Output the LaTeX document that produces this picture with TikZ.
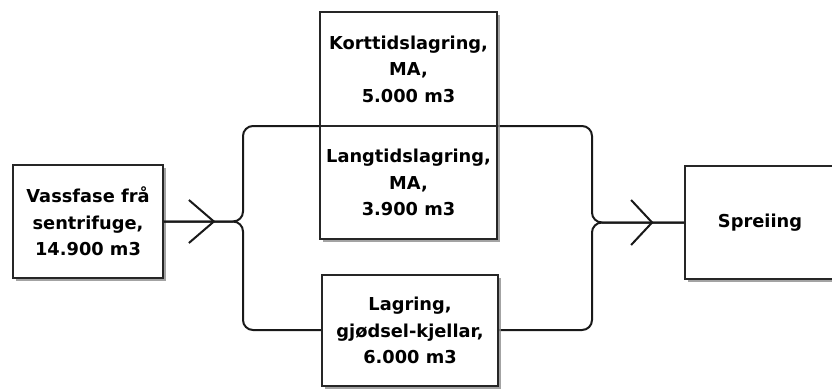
\documentclass[tikz,border=0pt]{standalone}
\usepackage{fontspec}
\setmainfont{DejaVu Sans}
\usetikzlibrary{calc,shadows}
\begin{document}
\begin{tikzpicture}[x=1pt,y=-1pt,
  box/.style={draw=black!85,line width=1.8pt,fill=white,align=center,
    inner sep=0pt,font=\bfseries\fontsize{17.8}{26.5}\selectfont,
    drop shadow={shadow xshift=3pt,shadow yshift=-3pt,fill=black!45,opacity=0.8}},
  flow/.style={draw=black!90,line width=2pt,rounded corners=10pt},
  chev/.style={draw=black!90,line width=2pt}]
\useasboundingbox (0,0) rectangle (832,389);
\fill[white] (0,0) rectangle (832,389);

% source and destination boxes
\node[box,minimum width=150pt,minimum height=113pt] (src) at (88,221.5)
  {Vassfase frå\\sentrifuge,\\14.900 m3};
\node[box,minimum width=150pt,minimum height=113pt] (out) at (760,222.5)
  {Spreiing};

% flow lines (drawn before the storage boxes so the boxes sit on top)
\coordinate (jl) at (243,221.5);
\coordinate (jr) at (592,222.5);
\draw[flow] (src.east) -- (jl) -- (243,126) -- (592,126) -- (jr) -- (out.west);
\draw[flow] (src.east) -- (jl) -- (243,330) -- (592,330) -- (jr) -- (out.west);

% storage boxes
\node[box,minimum width=177pt,minimum height=114pt] (kort) at (408.5,69)
  {Korttidslagring,\\MA,\\5.000 m3};
\node[box,minimum width=177pt,minimum height=113pt] (lang) at (408.5,182.5)
  {Langtidslagring,\\MA,\\3.900 m3};
\node[box,minimum width=176pt,minimum height=111pt] (lag) at (410,330.5)
  {Lagring,\\gjødsel-kjellar,\\6.000 m3};

% open arrow marks on the incoming and outgoing lines
\draw[chev] ($(src.east)+(25,-21.5)$) -- ($(src.east)+(50,0)$) -- ($(src.east)+(25,21.5)$);
\draw[chev] ($(out.west)+(-53,-22.5)$) -- ($(out.west)+(-32,0)$) -- ($(out.west)+(-53,22.5)$);
\end{tikzpicture}
\end{document}
